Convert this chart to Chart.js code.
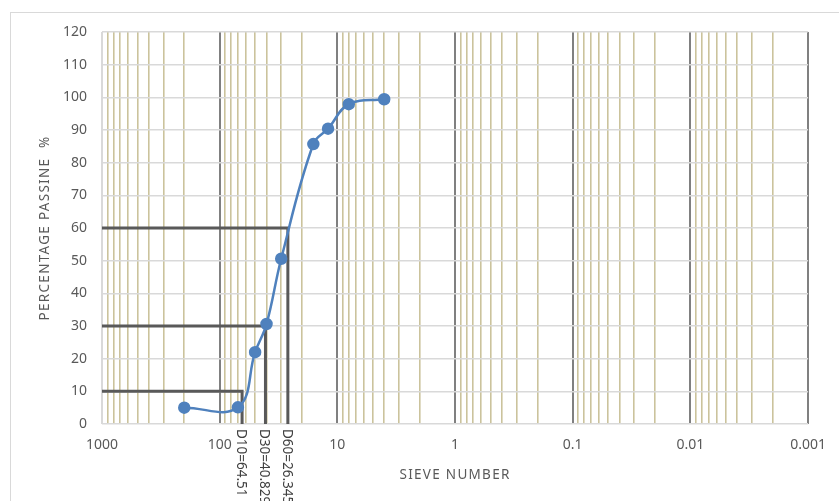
<!DOCTYPE html>
<html>
<head>
<meta charset="utf-8">
<script src="https://cdn.jsdelivr.net/npm/chart.js@4/dist/chart.umd.min.js"></script>
<style>
  html, body { margin: 0; padding: 0; background: #ffffff; }
  #wrap { position: relative; width: 839px; height: 501px; }
</style>
</head>
<body>
<div id="wrap"><canvas id="c" width="839" height="501"></canvas></div>
<script>
// Grain size distribution: sieve opening vs. percentage passing
const sieveSize      = [200, 70, 50, 40, 30, 16, 12, 8, 4];
const percentPassing = [5, 5.1, 22, 30.6, 50.6, 85.7, 90.4, 97.9, 99.4];

// Characteristic diameters D10 / D30 / D60
const dPercent = [10, 30, 60];
const dSize    = [64.51, 40.829, 26.345];

// Decade tick values and their labels on the (reversed) log axis
const decades     = [1000, 100, 10, 1, 0.1, 0.01, 0.001];
const xTickLabels = ['1000', '100', '10', '1', '0.1', '0.01', '0.001'];

// Axis titles
const xTitle = 'SIEVE NUMBER';
const yTitle = 'PERCENTAGE PASSINE  %';

const FONT = '"Noto Sans", "Open Sans", sans-serif';
const TEXT = '#595959';

const isDecade = v => Math.abs(Math.log10(v) - Math.round(Math.log10(v))) < 1e-9;

// One dataset per D-line: horizontal from the left edge, then down to 0 %
const dLineSets = dPercent.map((p, i) => ({
  data: [{ x: decades[0], y: p }, { x: dSize[i], y: p }, { x: dSize[i], y: 0 }],
  showLine: true,
  borderColor: '#595959',
  borderWidth: 3,
  pointRadius: 0,
  tension: 0,
  borderJoinStyle: 'miter',
  clip: false
}));

// Outer frame, letter-spaced axis titles and the rotated D-value labels
const frameAndLabels = {
  id: 'frameAndLabels',
  beforeDraw(chart) {
    const ctx = chart.ctx;
    ctx.save();
    ctx.strokeStyle = '#d9d9d9';
    ctx.lineWidth = 1;
    ctx.strokeRect(10.5, 12.5, 1000, 1000);
    ctx.restore();
  },
  afterDraw(chart) {
    const ctx = chart.ctx;
    const xs = chart.scales.x;
    const area = chart.chartArea;

    ctx.save();
    ctx.fillStyle = TEXT;
    ctx.font = '13.5px ' + FONT;
    ctx.letterSpacing = '1.3px';
    ctx.textAlign = 'center';
    ctx.textBaseline = 'middle';
    ctx.fillText(xTitle, (area.left + area.right) / 2, 475);
    ctx.save();
    ctx.translate(45, (area.top + area.bottom) / 2);
    ctx.rotate(-Math.PI / 2);
    ctx.fillText(yTitle, 0, 0);
    ctx.restore();
    ctx.restore();

    ctx.save();
    ctx.font = '13.5px ' + FONT;
    ctx.fillStyle = '#404040';
    ctx.textAlign = 'left';
    ctx.textBaseline = 'middle';
    dPercent.forEach((p, i) => {
      const px = xs.getPixelForValue(dSize[i]);
      ctx.save();
      ctx.translate(px - 1.5, area.bottom + 5);
      ctx.rotate(Math.PI / 2);
      ctx.fillText('D' + p + '=' + dSize[i], 0, 0);
      ctx.restore();
    });
    ctx.restore();
  }
};

new Chart(document.getElementById('c'), {
  type: 'scatter',
  data: {
    datasets: [
      {
        data: sieveSize.map((s, i) => ({ x: s, y: percentPassing[i] })),
        showLine: true,
        borderColor: '#4f81bd',
        backgroundColor: '#4f81bd',
        borderWidth: 2.5,
        pointRadius: 5,
        pointHoverRadius: 5,
        tension: 0.4
      },
      ...dLineSets
    ]
  },
  options: {
    responsive: false,
    devicePixelRatio: 1,
    animation: false,
    layout: { padding: { top: 32, right: 27, left: 0, bottom: 0 } },
    plugins: { legend: { display: false }, tooltip: { enabled: false } },
    scales: {
      x: {
        type: 'logarithmic',
        reverse: true,
        min: 0.001,
        max: 1000,
        afterBuildTicks(scale) {
          const vals = [];
          decades.forEach(d => {
            for (let k = 1; k <= 9; k++) {
              const v = d * k;
              if (v <= decades[0] + 1e-9) vals.push(v);
            }
          });
          scale.ticks = vals.sort((a, b) => b - a).map(v => ({ value: v }));
        },
        afterFit(scale) { scale.height = 77; },
        border: { display: false },
        grid: {
          drawTicks: false,
          color: c => {
            const v = c.tick ? c.tick.value : 1;
            if (!isDecade(v)) return '#cbc39c';
            return v >= decades[0] - 1e-9 ? '#d9d9d9' : '#808080';
          },
          lineWidth: c => {
            const v = c.tick ? c.tick.value : 1;
            return isDecade(v) ? 2 : 1.6;
          }
        },
        ticks: {
          autoSkip: false,
          maxRotation: 0,
          padding: 13,
          color: TEXT,
          font: { family: FONT, size: 14 },
          callback: v => {
            const i = decades.findIndex(d => Math.abs(Math.log10(d) - Math.log10(v)) < 1e-9);
            return i >= 0 ? xTickLabels[i] : '';
          }
        },
        title: { display: false }
      },
      y: {
        min: 0,
        max: 120,
        afterFit(scale) { scale.width = 102; },
        border: { display: false },
        grid: { drawTicks: false, color: '#d9d9d9', lineWidth: 1.5 },
        ticks: {
          stepSize: 10,
          padding: 15,
          color: TEXT,
          font: { family: FONT, size: 14 }
        },
        title: { display: false }
      }
    }
  },
  plugins: [frameAndLabels]
});
</script>
</body>
</html>
